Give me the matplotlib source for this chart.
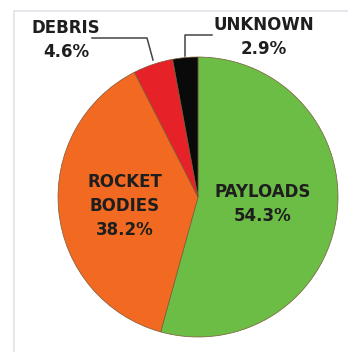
import matplotlib.pyplot as plt
from matplotlib.patches import Rectangle

# Share of catalogued objects by type
categories = ['PAYLOADS', 'ROCKET\nBODIES', 'DEBRIS', 'UNKNOWN']
shares = [54.3, 38.2, 4.6, 2.9]
colors = ['#6cbd45', '#f26a21', '#e62228', '#0a0a0a']

W, H = 348, 352
fig = plt.figure(figsize=(W / 100, H / 100), dpi=100)
ax = fig.add_axes([0, 0, 1, 1])
ax.set_xlim(0, W)
ax.set_ylim(0, H)
ax.set_aspect('equal')
ax.axis('off')


def py(y):
    # pixel rows run top-down
    return H - y


# light panel frame
ax.add_patch(Rectangle((14, -5), W + 10, py(11) + 5, fill=False,
                       edgecolor='#dfe4ea', linewidth=1.2))

wedges, _ = ax.pie(shares, colors=colors, startangle=90, counterclock=False,
                   center=(198, py(197)), radius=140,
                   wedgeprops=dict(edgecolor='#7a5a3a', linewidth=0.5))
ax.set_xlim(0, W)
ax.set_ylim(0, H)

font = dict(family='DejaVu Sans', weight='heavy', fontsize=12,
            color='#1e1e1e', ha='center', va='center', linespacing=1.45)

ax.text(263, py(204), f'{categories[0]}\n{shares[0]}%', **font)
ax.text(125, py(206), f'{categories[1]}\n{shares[1]}%', **font)
ax.text(66, py(40), f'{categories[2]}\n{shares[2]}%', **font)
ax.text(264, py(37), f'{categories[3]}\n{shares[3]}%', **font)

# leader lines to the two thin slices
ax.plot([92, 147, 153], [py(38), py(38), py(60)], color='#444444', lw=1.1)
ax.plot([185, 185, 212], [py(56), py(35), py(35)], color='#444444', lw=1.1)

fig.savefig('out.png', dpi=100, facecolor='white')
